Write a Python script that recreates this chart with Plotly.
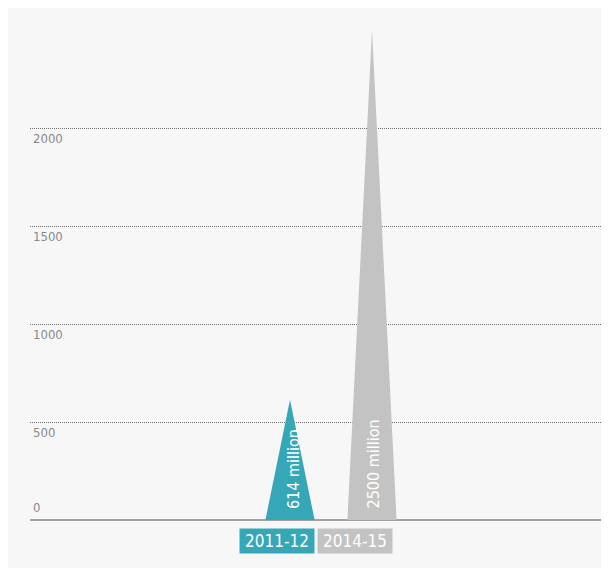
import plotly.graph_objects as go

categories = ["2011-12", "2014-15"]
values = [614, 2500]
value_labels = ["614 million", "2500 million"]
colors = ["#36a7b6", "#c3c3c3"]
tick_values = [0, 500, 1000, 1500, 2000]

FONT = "DejaVu Sans Condensed, Liberation Sans Narrow, Roboto, sans-serif"
half_w = 0.30

fig = go.Figure()
for i, (cat, v, c) in enumerate(zip(categories, values, colors)):
    fig.add_trace(go.Scatter(
        x=[i - half_w, i, i + half_w, i - half_w],
        y=[0, v, 0, 0],
        mode="lines", fill="toself", fillcolor=c,
        line=dict(width=0, color=c), hoverinfo="skip", showlegend=False,
    ))
    fig.add_annotation(
        x=i, y=0, xref="x", yref="y", text=value_labels[i],
        textangle=-90, showarrow=False, xanchor="center", yanchor="bottom",
        yshift=9, xshift=3 if i == 0 else 1,
        font=dict(family=FONT, size=16, color="white"),
    )
    fig.add_annotation(
        x=i, y=0, xref="x", yref="paper", text=cat, showarrow=False,
        xanchor="center", yanchor="top", yshift=-8,
        xshift=-13 if i == 0 else -17,
        bgcolor=c, width=74, height=24, borderpad=0,
        font=dict(family=FONT, size=17, color="white"),
    )

for t in tick_values:
    fig.add_annotation(
        x=0, y=t, xref="paper", yref="y", text=str(t), showarrow=False,
        xanchor="left", yanchor="bottom" if t == 0 else "top",
        xshift=1, yshift=3 if t == 0 else -1,
        font=dict(family=FONT, size=13, color="#8a8a8a"),
    )

fig.update_layout(
    width=609, height=568,
    margin=dict(l=22, r=13, t=22, b=56),
    paper_bgcolor="#f7f7f7", plot_bgcolor="#f7f7f7",
    font=dict(family=FONT),
    showlegend=False,
    xaxis=dict(range=[-260 / 82, 1 + 232 / 82], showgrid=False, zeroline=False,
               showticklabels=False, showline=False, fixedrange=True),
    yaxis=dict(range=[0, 2500], tickvals=tick_values,
               showgrid=True, gridcolor="#707070", griddash="1px,1px", gridwidth=1,
               zeroline=True, zerolinecolor="#a3a3a3", zerolinewidth=2,
               showticklabels=False, ticks="",
               showline=False, fixedrange=True),
)

fig.write_html("out.html")
